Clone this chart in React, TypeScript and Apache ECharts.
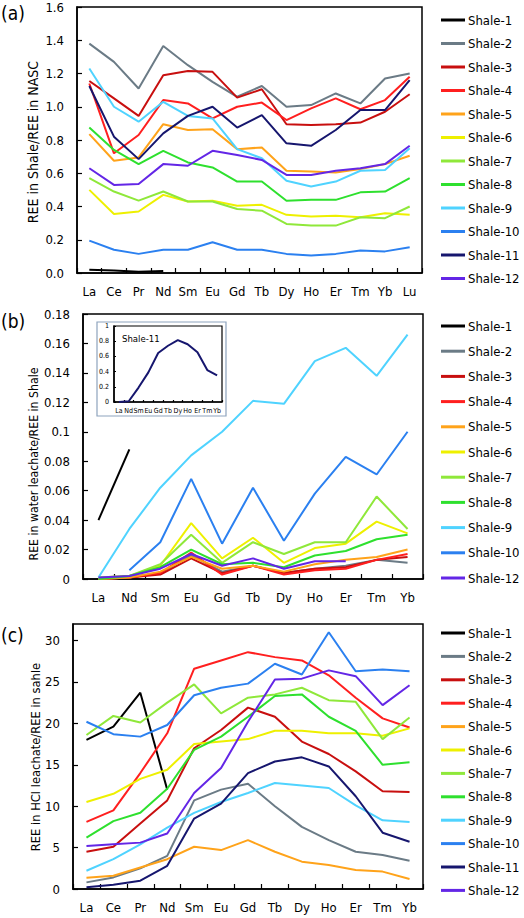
import React, { useEffect, useRef } from "react";
import * as echarts from "echarts";

const FONT = "'Liberation Sans Narrow', 'DejaVu Sans Condensed', 'Liberation Sans', sans-serif";

const seriesNames = [
  "Shale-1", "Shale-2", "Shale-3", "Shale-4", "Shale-5", "Shale-6",
  "Shale-7", "Shale-8", "Shale-9", "Shale-10", "Shale-11", "Shale-12",
];
const seriesColors = [
  "#000000", "#6b7b86", "#c80f0f", "#ff1f1f", "#ffa31a", "#eef000",
  "#8fe83a", "#2ee02e", "#4fd3ff", "#2b80f0", "#16166e", "#6326e6",
];

// Panel (a): REE in Shale / REE in NASC
const catsA = ["La", "Ce", "Pr", "Nd", "Sm", "Eu", "Gd", "Tb", "Dy", "Ho", "Er", "Tm", "Yb", "Lu"];
const a1 = [0.02, 0.015, 0.008, 0.012, null, null, null, null, null, null, null, null, null, null];
const a2 = [1.38, 1.27, 1.11, 1.365, 1.25, 1.15, 1.06, 1.125, 1.0, 1.01, 1.08, 1.02, 1.17, 1.2];
const a3 = [1.155, 1.05, 0.945, 1.19, 1.215, 1.21, 1.055, 1.105, 0.895, 0.89, 0.895, 0.905, 0.97, 1.075];
const a4 = [1.14, 0.72, 0.83, 1.04, 1.02, 0.93, 1.0, 1.025, 0.92, 0.99, 1.05, 0.985, 1.04, 1.18];
const a5 = [0.835, 0.675, 0.695, 0.895, 0.86, 0.865, 0.745, 0.755, 0.615, 0.61, 0.605, 0.625, 0.655, 0.705];
const a6 = [0.5, 0.355, 0.37, 0.47, 0.43, 0.435, 0.405, 0.41, 0.35, 0.34, 0.345, 0.335, 0.36, 0.35];
const a7 = [0.57, 0.49, 0.435, 0.49, 0.43, 0.43, 0.385, 0.375, 0.295, 0.285, 0.285, 0.335, 0.33, 0.4];
const a8 = [0.875, 0.74, 0.655, 0.735, 0.665, 0.635, 0.55, 0.55, 0.435, 0.44, 0.44, 0.485, 0.49, 0.57];
const a9 = [1.23, 1.0, 0.91, 1.03, 0.945, 0.93, 0.745, 0.69, 0.555, 0.52, 0.55, 0.615, 0.62, 0.75];
const a10 = [0.195, 0.14, 0.115, 0.14, 0.14, 0.185, 0.14, 0.14, 0.115, 0.105, 0.115, 0.135, 0.13, 0.155];
const a11 = [1.125, 0.82, 0.685, 0.84, 0.945, 1.0, 0.875, 0.95, 0.78, 0.765, 0.86, 0.98, 0.98, 1.16];
const a12 = [0.63, 0.53, 0.535, 0.655, 0.645, 0.735, 0.71, 0.68, 0.59, 0.59, 0.615, 0.63, 0.655, 0.765];
const panelA = [a1, a2, a3, a4, a5, a6, a7, a8, a9, a10, a11, a12];

// Panel (b): REE in water leachate / REE in Shale
const catsB = ["La", "Nd", "Sm", "Eu", "Gd", "Tb", "Dy", "Ho", "Er", "Tm", "Yb"];
const b1 = [0.04, 0.088, null, null, null, null, null, null, null, null, null];
const b2 = [0, 0.001, 0.004, 0.016, 0.005, 0.009, 0.004, 0.007, 0.009, 0.013, 0.011];
const b3 = [0, 0.001, 0.003, 0.014, 0.004, 0.009, 0.004, 0.007, 0.008, 0.013, 0.015];
const b4 = [0, 0.001, 0.004, 0.018, 0.003, 0.009, 0.003, 0.006, 0.007, 0.013, 0.017];
const b5 = [0, 0.001, 0.005, 0.015, 0.007, 0.009, 0.005, 0.01, 0.013, 0.015, 0.02];
const b6 = [0.001, 0.002, 0.009, 0.038, 0.014, 0.028, 0.011, 0.021, 0.024, 0.039, 0.031];
const b7 = [0.001, 0.002, 0.01, 0.03, 0.011, 0.025, 0.017, 0.025, 0.025, 0.056, 0.034];
const b8 = [0, 0.002, 0.008, 0.02, 0.01, 0.011, 0.008, 0.016, 0.019, 0.027, 0.03];
const b9 = [0.001, 0.034, 0.062, 0.084, 0.1, 0.121, 0.119, 0.148, 0.157, 0.138, 0.166];
const b10 = [null, 0.006, 0.025, 0.068, 0.024, 0.062, 0.026, 0.058, 0.083, 0.071, 0.1];
const b12 = [0.001, 0.002, 0.007, 0.017, 0.009, 0.014, 0.007, 0.012, 0.012, null, null];
const panelB: (number | null)[][] = [b1, b2, b3, b4, b5, b6, b7, b8, b9, b10, [], b12];

// Inset of panel (b): Shale-11
const catsInset = ["La", "Nd", "Sm", "Eu", "Gd", "Tb", "Dy", "Ho", "Er", "Tm", "Yb"];
const inset11 = [0, 0.01, 0.19, 0.39, 0.645, 0.74, 0.815, 0.76, 0.655, 0.42, 0.35];

// Panel (c): REE in HCl leachate / REE in sahle
const catsC = ["La", "Ce", "Pr", "Nd", "Sm", "Eu", "Gd", "Tb", "Dy", "Ho", "Er", "Tm", "Yb"];
const c1 = [18.0, 19.6, 23.7, 12.0, null, null, null, null, null, null, null, null, null];
const c2 = [0.8, 1.4, 2.5, 4.0, 10.7, 12.0, 12.7, 10.0, 7.5, 5.9, 4.5, 4.1, 3.4];
const c3 = [4.5, 5.1, 7.9, 10.7, 17.0, 19.2, 21.9, 20.8, 17.8, 16.3, 14.2, 11.8, 11.7];
const c4 = [8.1, 9.5, 14.0, 18.8, 26.6, 27.6, 28.6, 28.0, 27.6, 25.8, 23.1, 20.6, 19.5];
const c5 = [1.35, 1.6, 2.6, 3.6, 5.1, 4.7, 5.9, 4.5, 3.3, 2.9, 2.3, 2.1, 1.2];
const c6 = [10.5, 11.5, 13.3, 14.4, 17.5, 17.8, 18.1, 19.1, 19.1, 18.8, 18.8, 18.5, 19.4];
const c7 = [18.6, 20.9, 20.1, 22.5, 24.7, 21.2, 23.1, 23.5, 24.3, 22.8, 22.6, 18.1, 20.7];
const c8 = [6.2, 8.2, 9.2, 12.1, 16.8, 18.4, 20.8, 23.3, 23.5, 20.8, 19.1, 15.0, 15.3];
const c9 = [2.2, 3.6, 5.4, 7.4, 9.2, 10.5, 11.6, 12.8, 12.5, 12.2, 10.1, 8.3, 8.1];
const c10 = [20.2, 18.7, 18.4, 19.8, 23.4, 24.3, 24.8, 27.2, 25.9, 31.0, 26.3, 26.5, 26.3];
const c11 = [0.2, 0.5, 1.0, 2.8, 8.5, 10.3, 14.0, 15.4, 15.9, 14.8, 11.2, 6.8, 5.7];
const c12 = [5.2, 5.4, 5.6, 6.7, 11.6, 14.6, 20.2, 25.3, 25.4, 26.4, 25.7, 22.2, 24.6];
const panelC = [c1, c2, c3, c4, c5, c6, c7, c8, c9, c10, c11, c12];

const legendNamesB = seriesNames.filter((n) => n !== "Shale-11");

const panelLabels = ["(a)", "(b)", "(c)"];
const yTitles = [
  "REE in Shale/REE in NASC",
  "REE in water leachate/REE in Shale",
  "REE in HCl leachate/REE in sahle",
];

function catAxis(gridIndex: number, data: string[], fontSize = 13, margin = 12, tickLen = 5) {
  return {
    type: "category",
    gridIndex,
    data,
    boundaryGap: true,
    axisLine: { show: true, lineStyle: { color: "#000", width: 1.5 } },
    axisTick: { show: true, inside: true, length: tickLen, lineStyle: { color: "#000", width: 1.2 } },
    axisLabel: { interval: 0, color: "#000", fontSize, fontFamily: FONT, margin },
    splitLine: { show: false },
  };
}

function valAxis(gridIndex: number, min: number, max: number, interval: number, formatter: (v: number) => string, fontSize = 13, margin = 13, tickLen = 5) {
  const rem = max % interval;
  return {
    type: "value",
    gridIndex,
    min,
    max,
    interval,
    axisLine: { show: true, lineStyle: { color: "#000", width: 1.5 } },
    axisTick: { show: true, inside: true, length: tickLen, lineStyle: { color: "#000", width: 1.2 } },
    axisLabel: { color: "#000", fontSize, fontFamily: FONT, margin, formatter, showMaxLabel: rem < 1e-9 || Math.abs(rem - interval) < 1e-9 },
    splitLine: { show: false },
  };
}

function legend(top: number, gap: number, data: string[]) {
  return {
    orient: "vertical",
    left: 441,
    top,
    padding: 0,
    itemWidth: 24,
    itemHeight: 3,
    itemGap: gap,
    icon: "rect",
    selectedMode: false,
    textStyle: { fontSize: 13, lineHeight: 16, fontFamily: FONT, color: "#000", padding: [0, 0, 0, -2] },
    data,
  };
}

export default function App() {
  const ref = useRef<HTMLDivElement>(null);
  useEffect(() => {
    if (!ref.current) return;
    const chart = echarts.init(ref.current, null, { renderer: "svg" });

    const series: any[] = [];
    const mk = (name: string, color: string, data: any[], idx: number) => ({
      type: "line",
      name,
      xAxisIndex: idx,
      yAxisIndex: idx,
      data,
      symbol: "none",
      showSymbol: false,
      connectNulls: false,
      lineStyle: { color, width: 2 },
      itemStyle: { color },
      emphasis: { disabled: true },
    });
    seriesNames.forEach((n, i) => series.push(mk(n, seriesColors[i], panelA[i], 0)));
    seriesNames.forEach((n, i) => {
      if (n === "Shale-11") return;
      series.push(mk(n, seriesColors[i], panelB[i], 1));
    });
    seriesNames.forEach((n, i) => series.push(mk(n, seriesColors[i], panelC[i], 2)));
    series.push(mk("Shale-11", seriesColors[10], inset11, 3));

    const titleStyle = (text: string, fontSize: number) => ({ text, fontSize, fontFamily: FONT, fill: "#000", align: "center", verticalAlign: "middle" });

    const option: any = {
      animation: false,
      backgroundColor: "#fff",
      textStyle: { fontFamily: FONT },
      grid: [
        { left: 77, top: 7, width: 345, height: 266, show: true, borderColor: "#000", borderWidth: 1.5, backgroundColor: "transparent" },
        { left: 83, top: 314, width: 340, height: 265, show: true, borderColor: "#000", borderWidth: 1.5, backgroundColor: "transparent" },
        { left: 73, top: 624, width: 350, height: 265, show: true, borderColor: "#000", borderWidth: 1.5, backgroundColor: "transparent" },
        { left: 114, top: 326, width: 108, height: 76, show: true, borderColor: "#000", borderWidth: 1.2, backgroundColor: "transparent" },
      ],
      xAxis: [
        catAxis(0, catsA),
        catAxis(1, catsB),
        catAxis(2, catsC),
        catAxis(3, catsInset, 7, 5, 2),
      ],
      yAxis: [
        valAxis(0, 0, 1.6, 0.2, (v) => v.toFixed(1)),
        valAxis(1, 0, 0.18, 0.02, (v) => (v === 0 ? "0" : String(+v.toFixed(2)))),
        valAxis(2, 0, 32, 5, (v) => String(v)),
        valAxis(3, 0, 1, 0.2, (v) => (v === 0 ? "0" : v === 1 ? "1" : v.toFixed(1)), 7, 5, 2),
      ],
      legend: [
        legend(12, 7.5, seriesNames),
        legend(318, 9.2, legendNamesB),
        legend(625, 7.4, seriesNames),
      ],
      graphic: [
        { type: "text", left: 1, top: 3, style: { text: panelLabels[0], fontSize: 19, fontFamily: FONT, fill: "#000" } },
        { type: "text", left: 1, top: 311, style: { text: panelLabels[1], fontSize: 19, fontFamily: FONT, fill: "#000" } },
        { type: "text", left: 1, top: 625, style: { text: panelLabels[2], fontSize: 19, fontFamily: FONT, fill: "#000" } },
        { type: "text", x: 33, y: 142, rotation: Math.PI / 2, style: titleStyle(yTitles[0], 14) },
        { type: "text", x: 34, y: 464, rotation: Math.PI / 2, style: titleStyle(yTitles[1], 12.2) },
        { type: "text", x: 35, y: 757, rotation: Math.PI / 2, style: titleStyle(yTitles[2], 12.8) },
        { type: "rect", shape: { x: 97, y: 322, width: 129, height: 94 }, style: { fill: null, stroke: "#8ea3bd", lineWidth: 1.2 }, z: 1 },
        { type: "text", x: 122, y: 338, style: { text: "Shale-11", fontSize: 9.5, fontFamily: FONT, fill: "#000", verticalAlign: "middle" }, z: 5 },
      ],
      series,
    };
    chart.setOption(option);
    return () => chart.dispose();
  }, []);
  return <div ref={ref} style={{ position: "absolute", left: 0, top: 0, width: 524, height: 918, background: "#fff" }} />;
}
